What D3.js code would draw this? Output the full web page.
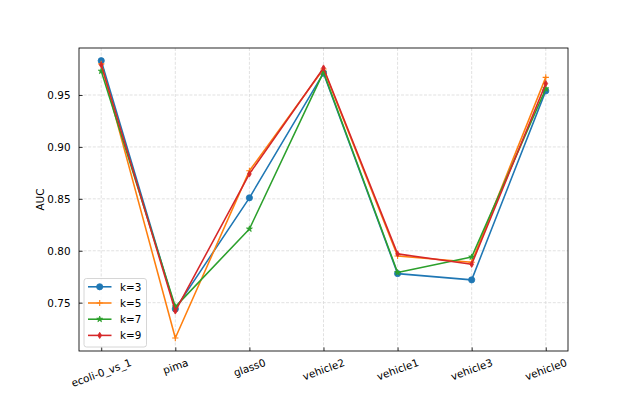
<!DOCTYPE html>
<html><head><meta charset="utf-8">
<script src="https://cdn.jsdelivr.net/npm/d3@7"></script>
<style>body{margin:0;background:#fff}svg{display:block}text{font-family:"DejaVu Sans",sans-serif;fill:#000}</style>
</head><body><svg id="c" width="632" height="395"></svg>
<script>
const categories = ["ecoli-0_vs_1","pima","glass0","vehicle2","vehicle1","vehicle3","vehicle0"];
const k3 = [0.983, 0.744, 0.851, 0.971, 0.778, 0.772, 0.954];
const k5 = [0.980, 0.716, 0.877, 0.975, 0.795, 0.789, 0.967];
const k7 = [0.973, 0.746, 0.821, 0.972, 0.779, 0.794, 0.956];
const k9 = [0.979, 0.742, 0.874, 0.976, 0.797, 0.787, 0.961];
const seriesNames = ["k=3","k=5","k=7","k=9"];
const yTicks = [0.75, 0.80, 0.85, 0.90, 0.95];
const yLabel = "AUC";

const series = [
  {name: seriesNames[0], values: k3, color: "#1f77b4", marker: "o"},
  {name: seriesNames[1], values: k5, color: "#ff7f0e", marker: "+"},
  {name: seriesNames[2], values: k7, color: "#2ca02c", marker: "*"},
  {name: seriesNames[3], values: k9, color: "#d62728", marker: "d"}
];

const L = 79, R = 568, T = 48, B = 351;
const FS = 10.4;
const svg = d3.select("#c");

const x = d3.scaleLinear().domain([-0.3, categories.length - 0.7]).range([L, R]);
const y = d3.scaleLinear().domain([0.70349, 0.99526]).range([B, T]);

// grid
const g = svg.append("g");
categories.forEach((c, i) => {
  g.append("line").attr("x1", x(i)).attr("x2", x(i)).attr("y1", T).attr("y2", B)
    .attr("stroke", "#d9d9d9").attr("stroke-width", 0.8).attr("stroke-dasharray", "3,1.6");
});
yTicks.forEach(t => {
  g.append("line").attr("x1", L).attr("x2", R).attr("y1", y(t)).attr("y2", y(t))
    .attr("stroke", "#d9d9d9").attr("stroke-width", 0.8).attr("stroke-dasharray", "3,1.6");
});

// axes
const yAxis = d3.axisLeft(y).tickValues(yTicks).tickFormat(d3.format(".2f")).tickSizeInner(-3.6).tickSizeOuter(0).tickPadding(8.5);
const ya = svg.append("g").attr("transform", `translate(${L},0)`).call(yAxis);
ya.select(".domain").remove();
ya.selectAll("line").attr("stroke", "#000").attr("stroke-width", 0.8);
ya.selectAll("text").attr("font-size", FS).attr("font-family", "DejaVu Sans");

const xAxis = d3.axisBottom(x).tickValues(d3.range(categories.length)).tickFormat(() => "").tickSizeInner(-3.6).tickSizeOuter(0);
const xa = svg.append("g").attr("transform", `translate(0,${B})`).call(xAxis);
xa.select(".domain").remove();
xa.selectAll("line").attr("stroke", "#000").attr("stroke-width", 0.8);

// rotated x labels
const ang = 20 * Math.PI / 180;
categories.forEach((c, i) => {
  const t = svg.append("text").text(c).attr("font-size", FS).attr("text-anchor", "middle")
    .attr("dominant-baseline", "central");
  const w = t.node().getComputedTextLength();
  const h = FS * 1.17;
  const bh = w * Math.sin(ang) + h * Math.cos(ang);
  t.attr("transform", `translate(${x(i)},${356 + bh / 2}) rotate(-20)`);
});

svg.append("text").text(yLabel).attr("font-size", FS).attr("text-anchor", "middle")
  .attr("transform", `translate(${44},${(T + B) / 2}) rotate(-90)`);

// markers
const ms = 6.24;
function drawMarker(sel, m, color, cx, cy) {
  if (m === "o") {
    sel.append("circle").attr("cx", cx).attr("cy", cy).attr("r", ms / 2).attr("fill", color).attr("stroke", color).attr("stroke-width", 0.8);
  } else if (m === "+") {
    sel.append("path").attr("d", `M${cx - ms / 2},${cy}H${cx + ms / 2}M${cx},${cy - ms / 2}V${cy + ms / 2}`)
      .attr("stroke", color).attr("stroke-width", 1.1).attr("fill", "none");
  } else if (m === "*") {
    const pts = [];
    const ro = ms / 2, ri = ro * 0.381966;
    for (let k = 0; k < 10; k++) {
      const a = -Math.PI / 2 + k * Math.PI / 5;
      const r = k % 2 === 0 ? ro : ri;
      pts.push([cx + r * Math.cos(a), cy + r * Math.sin(a)]);
    }
    sel.append("path").attr("d", d3.line()(pts) + "Z").attr("fill", color).attr("stroke", color).attr("stroke-width", 0.8);
  } else if (m === "d") {
    const hw = ms * 0.3, hh = ms / 2;
    sel.append("path").attr("d", `M${cx},${cy - hh}L${cx + hw},${cy}L${cx},${cy + hh}L${cx - hw},${cy}Z`)
      .attr("fill", color).attr("stroke", color).attr("stroke-width", 0.8);
  }
}

const line = d3.line().x((d, i) => x(i)).y(d => y(d));
const plot = svg.append("g");
series.forEach(s => {
  const sg = plot.append("g");
  sg.append("path").attr("d", line(s.values)).attr("fill", "none").attr("stroke", s.color)
    .attr("stroke-width", 1.56).attr("stroke-linejoin", "round").attr("stroke-linecap", "square");
  s.values.forEach((v, i) => drawMarker(sg, s.marker, s.color, x(i), y(v)));
});

// spines
svg.append("rect").attr("x", L).attr("y", T).attr("width", R - L).attr("height", B - T)
  .attr("fill", "none").attr("stroke", "#000").attr("stroke-width", 0.85);

// legend
const lg = svg.append("g");
lg.append("rect").attr("x", 84).attr("y", 278.5).attr("width", 62.5).attr("height", 68.5).attr("rx", 2.5)
  .attr("fill", "#fff").attr("fill-opacity", 0.8).attr("stroke", "#cccccc").attr("stroke-width", 0.8);
series.forEach((s, i) => {
  const yy = 286.8 + i * 16.2;
  lg.append("line").attr("x1", 88).attr("x2", 111.5).attr("y1", yy).attr("y2", yy)
    .attr("stroke", s.color).attr("stroke-width", 1.56);
  drawMarker(lg, s.marker, s.color, 99.7, yy);
  lg.append("text").text(s.name).attr("x", 120).attr("y", yy).attr("dominant-baseline", "central").attr("font-size", FS);
});
</script></body></html>
